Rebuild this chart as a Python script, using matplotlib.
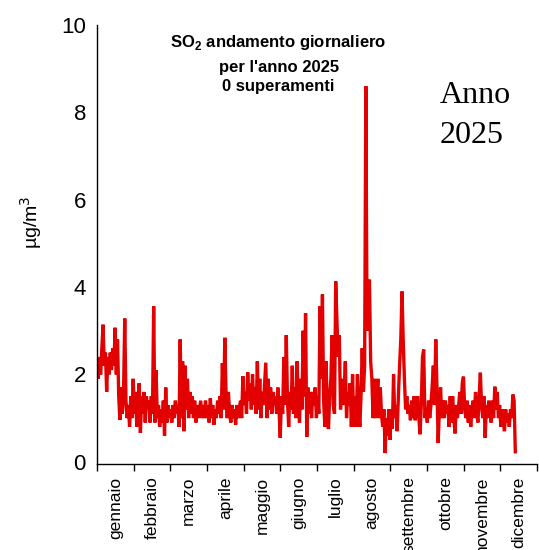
import numpy as np
import matplotlib
matplotlib.use("Agg")
import matplotlib.pyplot as plt

# daily SO2 means (ug/m3), one list per month
gen = [2.3, 1.9, 2.4, 2.0, 2.6, 3.14, 2.2, 2.5, 1.6, 2.4, 2.0, 2.5, 2.1, 2.6, 2.2, 3.07,
       2.0, 2.8, 1.5, 0.96, 1.7, 1.1, 1.6, 3.28, 1.4, 1.0, 1.3, 0.8, 1.5, 1.0, 1.9]
feb = [1.1, 1.6, 0.8, 1.4, 1.8, 0.66, 1.5, 1.1, 1.6, 0.9, 1.5, 1.2, 1.4, 0.9, 1.5, 1.1,
       3.56, 0.9, 2.1, 1.0, 1.3, 0.8, 1.2, 0.9, 1.4, 0.6, 1.7, 0.9]
mar = [1.3, 1.0, 1.2, 0.9, 1.3, 1.0, 1.4, 1.1, 1.3, 0.8, 2.8, 1.0, 2.3, 0.7, 2.2, 1.2,
       1.9, 1.0, 1.6, 1.1, 1.5, 1.0, 1.4, 0.9, 1.3, 1.0, 1.2, 1.4, 1.0, 1.3, 1.0]
apr = [1.4, 1.0, 1.3, 0.9, 1.45, 1.0, 1.3, 0.85, 1.2, 1.0, 1.4, 1.1, 1.5, 1.0, 2.26,
       1.2, 2.84, 1.6, 1.0, 1.6, 1.1, 0.9, 1.3, 1.0, 1.2, 0.85, 1.3, 1.0, 1.2, 1.4]
mag = [1.0, 1.96, 1.3, 1.6, 1.1, 2.05, 1.4, 1.8, 1.2, 2.0, 1.3, 1.7, 1.1, 2.3, 1.2, 1.9,
       1.0, 1.6, 1.3, 1.8, 2.27, 1.0, 1.9, 1.2, 1.7, 1.1, 1.6, 1.3, 1.5, 1.1, 1.7]
giu = [1.2, 0.55, 1.5, 1.1, 2.4, 1.3, 2.9, 1.4, 0.8, 1.6, 1.2, 2.2, 1.1, 1.7, 1.0,
       2.3, 1.3, 0.9, 1.9, 1.2, 3.0, 1.5, 3.4, 0.57, 1.7, 1.1, 1.6, 1.0, 1.6, 1.3]
lug = [1.7, 1.0, 1.5, 1.1, 3.56, 1.9, 3.83, 1.4, 0.8, 2.3, 1.2, 0.75, 1.5, 1.9, 2.9,
       1.3, 1.1, 4.13, 3.3, 2.4, 2.9, 1.2, 1.9, 1.3, 1.6, 2.3, 1.0, 1.6, 1.3, 1.8, 0.8]
ago = [2.0, 0.8, 1.5, 0.8, 2.0, 1.3, 0.8, 1.5, 2.6, 1.6, 2.2, 8.6, 3.0, 3.25, 4.17,
       2.3, 1.9, 1.0, 1.9, 1.0, 1.5, 1.9, 1.0, 1.7, 1.1, 0.8, 1.2, 0.2, 1.0, 0.6, 1.2]
set_ = [0.5, 1.2, 0.75, 2.0, 1.0, 1.3, 0.7, 1.5, 2.2, 2.8, 3.9, 2.8, 1.9, 1.2, 1.5,
        1.1, 1.3, 0.95, 1.4, 1.0, 1.5, 0.95, 1.3, 1.5, 1.0, 0.63, 1.3, 2.4, 2.57, 1.0]
ott = [1.2, 0.9, 1.4, 1.0, 1.3, 1.72, 2.2, 1.3, 2.8, 1.7, 0.43, 1.2, 1.7, 1.0, 1.4,
       1.0, 1.4, 1.1, 1.3, 0.8, 1.5, 0.9, 1.5, 1.0, 0.65, 1.3, 1.0, 1.3, 1.6, 1.1, 1.8]
nov = [1.95, 1.2, 1.0, 1.4, 0.9, 1.3, 0.8, 1.2, 1.4, 1.0, 1.6, 1.1, 0.9, 1.5, 2.04,
       1.3, 1.0, 1.5, 0.55, 1.3, 1.0, 1.4, 1.2, 0.9, 1.4, 1.0, 1.72, 1.2, 1.6, 1.0]
dic = [1.3, 0.8, 1.2, 1.0, 0.7, 1.2, 0.9, 1.1, 0.8, 1.2, 1.0, 1.54, 1.4, 0.23]

mesi = ['gennaio', 'febbraio', 'marzo', 'aprile', 'maggio', 'giugno', 'luglio',
        'agosto', 'settembre', 'ottobre', 'novembre', 'dicembre']

so2 = np.array(gen + feb + mar + apr + mag + giu + lug + ago + set_ + ott + nov + dic)
giorni = np.arange(len(so2))

fig = plt.figure(figsize=(5.39, 5.50), dpi=100)
ax = fig.add_axes([0.18, 0.1564, 0.8163, 0.7981])

ax.plot(giorni, so2, color='#e30000', lw=2.4, solid_joinstyle='miter')

ax.set_xlim(0, 365)
ax.set_ylim(-0.05, 10)

# month boundaries as ticks, names centred in between
bordi = np.arange(13) * 365 / 12
centri = bordi[:-1] + 365 / 24
ax.set_xticks(bordi)
ax.set_xticklabels([])
ax.set_xticks(centri, minor=True)
ax.set_xticklabels(mesi, minor=True, rotation=90, family='Liberation Sans',
                   fontsize=12.5, va='top', ha='center')
ax.tick_params(axis='x', which='major', length=5, width=1, direction='out')
ax.tick_params(axis='x', which='minor', length=0, pad=9)

ax.set_yticks([0, 2, 4, 6, 8, 10])
ax.set_yticklabels(['0', '2', '4', '6', '8', '10'], family='Liberation Sans', fontsize=16)
ax.tick_params(axis='y', length=0, pad=8)

for s in ['top', 'right']:
    ax.spines[s].set_visible(False)
for s in ['left', 'bottom']:
    ax.spines[s].set_linewidth(1.0)

fig.text(0.058, 0.595, r'µg/m$^3$', rotation=90, ha='center', va='center',
         family='Liberation Sans', fontsize=14)

fig.text(0.517, 0.9236, r'SO$_\mathregular{2}$ andamento giornaliero', ha='center',
         va='center', family='Liberation Sans', fontweight='bold', fontsize=12)
fig.text(0.517, 0.878, "per l'anno 2025", ha='center', va='center',
         family='Liberation Sans', fontweight='bold', fontsize=12)
fig.text(0.517, 0.842, "0 superamenti", ha='center', va='center',
         family='Liberation Sans', fontweight='bold', fontsize=12)

fig.text(0.815, 0.812, 'Anno', family='Liberation Serif', fontsize=23, va='baseline')
fig.text(0.815, 0.740, '2025', family='Liberation Serif', fontsize=23, va='baseline')

fig.savefig('out.png', dpi=100)
